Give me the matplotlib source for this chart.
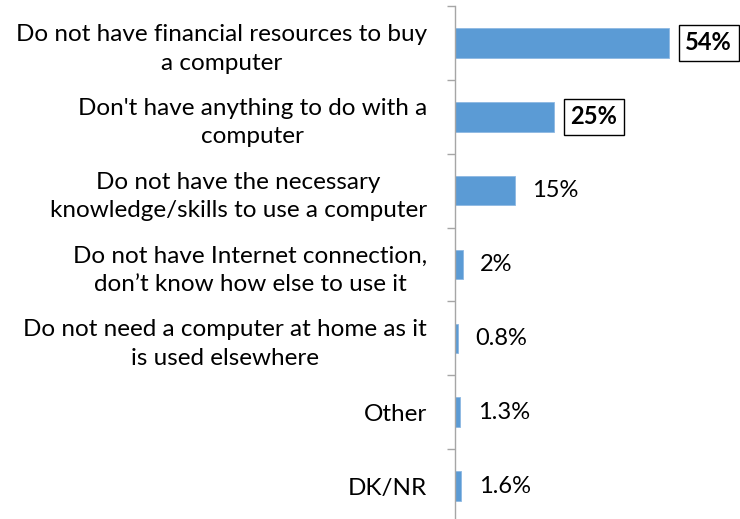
import matplotlib

matplotlib.use("Agg")
import matplotlib.pyplot as plt

plt.rcParams["font.family"] = ["Lato", "DejaVu Sans"]

reasons = [
    "Do not have financial resources to buy\na computer",
    "Don't have anything to do with a\ncomputer",
    "Do not have the necessary\nknowledge/skills to use a computer",
    "Do not have Internet connection,\ndon\u2019t know how else to use it",
    "Do not need a computer at home as it\nis used elsewhere",
    "Other",
    "DK/NR",
]
shares = [54, 25, 15, 2, 0.8, 1.3, 1.6]
share_labels = ["54%", "25%", "15%", "2%", "0.8%", "1.3%", "1.6%"]
boxed = [True, True, False, False, False, False, False]

BAR = "#5B9BD5"
AXIS = "#A6A6A6"

fig = plt.figure(figsize=(7.4, 5.19), dpi=100)
ax = fig.add_axes([455 / 740, -4 / 519, 275 / 740, 517 / 519])

ypos = list(range(len(reasons)))
ax.barh(ypos, shares, height=0.4, color=BAR, edgecolor="#8DB8E3", linewidth=0.6)
ax.set_ylim(len(reasons) - 0.5, -0.5)
ax.set_xlim(0, 69.3)

for y, v, lab, b in zip(ypos, shares, share_labels, boxed):
    if b:
        ax.annotate(lab, (v, y), xytext=(11.5, 0), textcoords="offset points",
                    va="center", ha="left", fontsize=17, fontweight="bold",
                    bbox=dict(boxstyle="square,pad=0.28", fc="white", ec="black", lw=1.0))
    else:
        ax.annotate(lab, (v, y), xytext=(12.5, 0), textcoords="offset points",
                    va="center", ha="left", fontsize=17)

# category labels sit between boundary ticks
ax.set_yticks(ypos)
ax.set_yticklabels(reasons, fontsize=17.5, multialignment="center", linespacing=1.45)
ax.tick_params(axis="y", which="major", length=0, pad=20)
ax.set_yticks([i - 0.5 for i in range(len(reasons) + 1)], minor=True)
ax.tick_params(axis="y", which="minor", length=6, width=1, color=AXIS, direction="out")

ax.set_xticks([])
for side in ["top", "right", "bottom"]:
    ax.spines[side].set_visible(False)
ax.spines["left"].set_color(AXIS)
ax.spines["left"].set_linewidth(1)

fig.savefig("out.png", dpi=100)
